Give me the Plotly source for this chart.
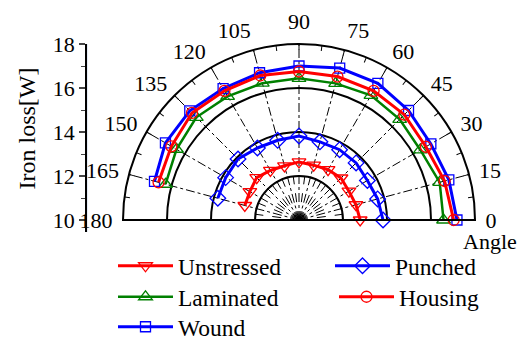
import plotly.graph_objects as go

# ---------------- data ----------------
angles = [0, 15, 30, 45, 60, 75, 90, 105, 120, 135, 150, 165]
unstressed = [12.78, 12.68, 12.62, 12.70, 12.64, 12.58, 12.64, 12.55, 12.60, 12.72, 12.58, 12.55]
punched = [13.82, 13.70, 13.59, 13.67, 13.69, 13.68, 13.82, 13.75, 13.78, 13.92, 13.85, 13.82]
laminated = [16.57, 16.62, 16.37, 16.47, 16.54, 16.43, 16.44, 16.44, 16.49, 16.60, 16.43, 16.28]
wound = [17.18, 17.05, 16.92, 17.04, 17.17, 17.15, 17.00, 16.93, 16.90, 17.02, 17.01, 16.80]
housing = [17.03, 16.85, 16.66, 16.77, 16.78, 16.75, 16.75, 16.80, 16.78, 16.88, 16.70, 16.61]

angle_ticks = [0, 15, 30, 45, 60, 75, 90, 105, 120, 135, 150, 165, 180]
angle_minor_ticks = [7.5, 22.5, 37.5, 52.5, 67.5, 82.5, 97.5, 112.5, 127.5, 142.5, 157.5, 172.5]
radial_circles = [12, 14, 16, 18]
loss_ticks = [10, 12, 14, 16, 18]
loss_minor_ticks = [11, 13, 15, 17]
radial_range = [10, 18]
inner_range = [10, 12]

# ---------------- geometry / style ----------------
W, H = 528, 340
OFF = 8          # page body margin offset
cx, cy, R = 299, 220, 176
R_inner = R * (inner_range[1] - inner_range[0]) / (radial_range[1] - radial_range[0])
FONT = "Liberation Serif"


def px_x(v):
    return (v - OFF) / W


def px_y(v):
    return (H - (v - OFF)) / H


series = [
    dict(name="Unstressed", r=unstressed, color="#FF0000", symbol="triangle-down-open", size=12, width=3,
         leg="legend", lx=113, ly=266),
    dict(name="Punched", r=punched, color="#0000FF", symbol="diamond-open", size=12, width=3,
         leg="legend2", lx=330, ly=266),
    dict(name="Laminated", r=laminated, color="#008000", symbol="triangle-up-open", size=12, width=2.5,
         leg="legend3", lx=113, ly=297),
    dict(name="Wound", r=wound, color="#0000FF", symbol="square-open", size=10, width=3,
         leg="legend5", lx=113, ly=327),
    dict(name="Housing", r=housing, color="#FF0000", symbol="circle-open", size=11, width=3,
         leg="legend4", lx=334, ly=297),
]

fig = go.Figure()
for s in series:
    fig.add_trace(go.Scatterpolar(
        r=s["r"], theta=angles, name=s["name"], mode="lines+markers",
        line=dict(color=s["color"], width=s["width"]),
        marker=dict(symbol=s["symbol"], size=s["size"], color=s["color"],
                    line=dict(color=s["color"], width=1.3)),
        legend=s["leg"], subplot="polar", showlegend=True,
    ))

# empty traces to create overlay subplots
fig.add_trace(go.Scatterpolar(r=[], theta=[], subplot="polar2", showlegend=False, hoverinfo="skip"))
fig.add_trace(go.Scatterpolar(r=[], theta=[], subplot="polar3", showlegend=False, hoverinfo="skip"))
fig.add_trace(go.Scatter(x=[], y=[], xaxis="x", yaxis="y", showlegend=False, hoverinfo="skip"))

dom_x = [px_x(cx - R), px_x(cx + R)]
dom_y = [px_y(cy), px_y(cy - R)]
dom_x_in = [px_x(cx - R_inner), px_x(cx + R_inner)]
dom_y_in = [px_y(cy), px_y(cy - R_inner)]

all_tick_angles = sorted(angle_ticks + angle_minor_ticks)

layout = dict(
    width=W, height=H,
    margin=dict(l=0, r=0, t=0, b=0, pad=0, autoexpand=False),
    showlegend=True,
    paper_bgcolor="white",
    font=dict(family=FONT, size=22, color="black"),
    polar=dict(
        domain=dict(x=dom_x, y=dom_y),
        sector=[0, 180],
        bgcolor="white",
        radialaxis=dict(range=radial_range, tickvals=radial_circles, showticklabels=False,
                        ticks="", showline=False, gridcolor="black", gridwidth=1.6),
        angularaxis=dict(tickvals=angle_ticks, direction="counterclockwise", rotation=0,
                         ticks="outside", ticklen=5, tickcolor="rgba(0,0,0,0)",
                         showline=True, linecolor="black", linewidth=2,
                         gridcolor="black", gridwidth=1, griddash="dashdot",
                         tickfont=dict(family=FONT, size=22)),
    ),
    polar2=dict(
        domain=dict(x=dom_x, y=dom_y),
        sector=[0, 180],
        bgcolor="rgba(0,0,0,0)",
        radialaxis=dict(range=radial_range, visible=False),
        angularaxis=dict(tickvals=all_tick_angles, direction="counterclockwise", rotation=0,
                         ticks="inside", ticklen=5, tickcolor="black", tickwidth=1.2,
                         showticklabels=False, showgrid=False, showline=False),
    ),
    polar3=dict(
        domain=dict(x=dom_x_in, y=dom_y_in),
        sector=[0, 180],
        bgcolor="rgba(0,0,0,0)",
        radialaxis=dict(range=inner_range, visible=False),
        angularaxis=dict(tickvals=angle_minor_ticks, direction="counterclockwise", rotation=0,
                         ticks="", showticklabels=False, showline=False,
                         showgrid=True, gridcolor="black", gridwidth=1, griddash="dash"),
    ),
    xaxis=dict(domain=[px_x(87), px_x(88)], visible=False, range=[0, 1]),
    yaxis=dict(domain=[px_y(cy + 12.1), px_y(cy - R)], range=[9.45, 18],
               anchor="x", side="left", tickvals=loss_ticks, ticks="outside", ticklen=6,
               tickwidth=1.5, showline=True, linecolor="black", linewidth=1.5,
               showgrid=False, zeroline=False, tickfont=dict(family=FONT, size=22),
               minor=dict(tickvals=loss_minor_ticks, ticks="outside", ticklen=4, tickwidth=1.2,
                          showgrid=False)),
    annotations=[
        dict(text="Iron loss[W]", x=px_x(27), y=px_y(128.5), xref="paper", yref="paper",
             textangle=-90, showarrow=False, font=dict(family=FONT, size=24),
             xanchor="center", yanchor="middle"),
        dict(text="Angle", x=px_x(490), y=px_y(241), xref="paper", yref="paper",
             showarrow=False, font=dict(family=FONT, size=22),
             xanchor="center", yanchor="middle"),
    ],
)

for s in series:
    layout[s["leg"]] = dict(x=px_x(s["lx"]), y=px_y(s["ly"]), xanchor="left", yanchor="middle",
                            itemwidth=55, bgcolor="rgba(0,0,0,0)", borderwidth=0,
                            font=dict(family=FONT, size=23.5))

fig.update_layout(**layout)
fig.write_html("out.html")
